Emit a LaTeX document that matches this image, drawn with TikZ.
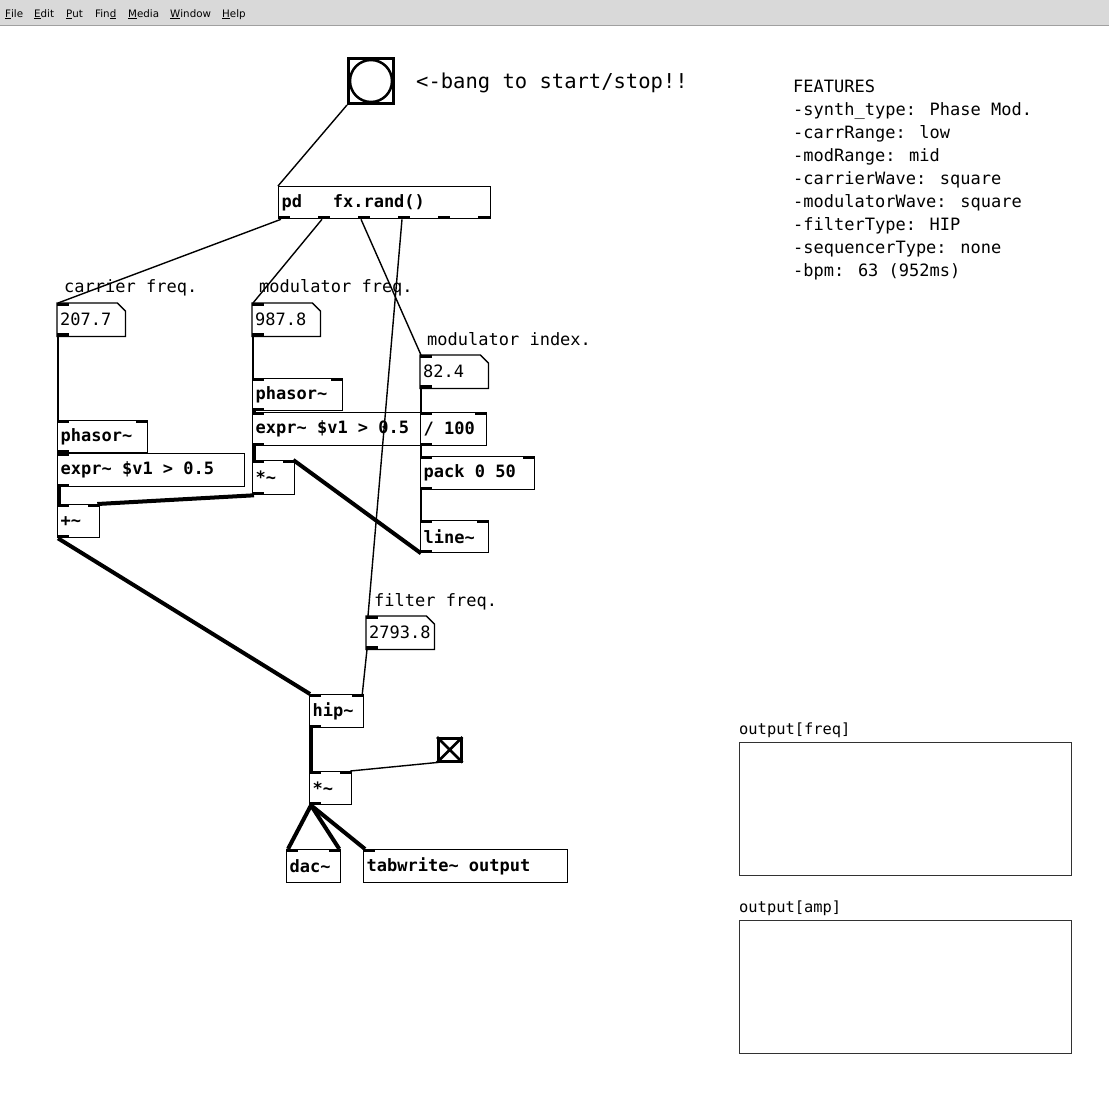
\documentclass[tikz,border=0pt]{standalone}
\usepackage{fontspec}
\newfontfamily\pdmono{DejaVu Sans Mono}
\newfontfamily\pdbold{DejaVu Sans Mono Bold}
\newfontfamily\pdmenu{DejaVu Sans}
\newcommand{\tld}{\textasciitilde}
\newcommand{\ws}{\hspace*{10.24pt}}
\newcommand{\pdobjfont}{\pdbold\fontsize{17}{20}\selectfont}
\definecolor{menubg}{RGB}{217,217,217}
\definecolor{menuline}{RGB}{160,160,160}
\definecolor{graphline}{RGB}{50,50,50}

\tikzset{
	obj/.style={draw, line width=1.3pt, anchor=north west, minimum height=33pt, inner xsep=3pt, inner ysep=0pt, align=left, font=\pdobjfont},
	num/.style={anchor=north west, minimum height=33pt, inner xsep=3pt, inner ysep=0pt, align=left, font=\pdmono\fontsize{17}{20}\selectfont},
	comment/.style={anchor=base west, inner sep=0pt, font=\pdmono\fontsize{17}{23}\selectfont},
	ctl/.style={line width=1.4pt},
	sig/.style={line width=4pt},
}

\begin{document}
\begin{tikzpicture}[x=1pt, y=-1pt]
	\fill[white] (0,0) rectangle (1109,1109);
	\useasboundingbox (0,0) rectangle (1109,1109);

	% menu bar
	\fill[menubg] (0,0) rectangle (1109,25);
	\draw[menuline, line width=1pt] (0,25) -- (1109,25);
	\foreach \x/\t [count=\i] in {5/{\underline{F}ile}, 34/{\underline{E}dit}, 66/{\underline{P}ut}, 95/{Fin\underline{d}}, 128/{\underline{M}edia}, 170/{\underline{W}indow}, 222/{\underline{H}elp}}
		\node (menu\i) [anchor=base west, inner sep=0pt, font=\pdmenu\fontsize{10.3}{12}\selectfont] at (\x,17) {\t};

	% gui objects
	\node (bang) [draw, line width=3pt, minimum size=45pt, inner sep=0pt, anchor=north west] at (347,57) {};
	\draw[line width=2.5pt] (bang.center) circle (21);
	\node (tgl) [draw, line width=2.5pt, minimum size=23pt, inner sep=0pt, anchor=north west] at (437,737) {};
	\draw[line width=2.5pt] (tgl.north west) -- (tgl.south east) (tgl.north east) -- (tgl.south west);

	% boxes
	\node (pd) [obj, text width=206pt, minimum height=32pt] at (278,186) {pd\ws\ws\ws fx.rand()};

	\node (carrnum) [num, text width=62pt] at (57,303) {207.7};
	\node (modnum) [num, text width=62pt] at (252,303) {987.8};
	\node (idxnum) [num, text width=62pt] at (420,355) {82.4};
	\node (filtnum) [num, text width=62pt] at (366,616) {2793.8};

	\node (phasorL) [obj, text width=84pt, minimum height=32pt] at (57,420) {phasor\tld};
	\node (exprL) [obj, text width=181pt] at (57,453) {expr\tld\ws\$v1\ws>\ws0.5};
	\node (addL) [obj, text width=36pt] at (57,504) {+\tld};

	\node (phasorM) [obj, text width=84pt, minimum height=32pt] at (252,378) {phasor\tld};
	\node (exprM) [obj, text width=162pt] at (252,412) {expr\tld\ws\$v1\ws>\ws0.5};
	\node (mulM) [obj, text width=36pt, minimum height=34pt] at (252,460) {*\tld};

	\node (div) [obj, text width=60pt] at (420,412) {/\ws100};
	\node (pack) [obj, text width=108pt] at (420,456) {pack\ws0\ws50};
	\node (line) [obj, text width=62pt, minimum height=32pt] at (420,520) {line\tld};

	\node (hip) [obj, text width=48pt] at (309,694) {hip\tld};
	\node (mulB) [obj, text width=36pt] at (309,771) {*\tld};
	\node (dac) [obj, text width=48pt] at (286,849) {dac\tld};
	\node (tabw) [obj, text width=198pt] at (363,849) {tabwrite\tld\ws output};

	% number box outlines
	\foreach \n in {carrnum, modnum, idxnum, filtnum}
		\draw[line width=1.3pt] (\n.north west) -- ([xshift=-8pt]\n.north east) -- ([yshift=-8pt]\n.north east) -- (\n.south east) -- (\n.south west) -- cycle;

	% inlets and outlets
	\foreach \n in {carrnum, modnum, idxnum, filtnum, phasorL, exprL, addL, phasorM, exprM, mulM, div, pack, line, hip, mulB, dac, tabw}
		\fill (\n.north west) rectangle ++(12,3);
	\foreach \n in {phasorL, addL, phasorM, mulM, div, pack, line, hip, mulB, dac}
		\fill (\n.north east) rectangle ++(-12,3);
	\foreach \n in {carrnum, modnum, idxnum, filtnum, phasorL, exprL, addL, phasorM, exprM, mulM, div, pack, line, hip, mulB}
		\fill (\n.south west) rectangle ++(12,-3);
	\foreach \i in {0,...,5}
		\fill ([xshift=\i*40pt]pd.south west) rectangle ++(12,-3);

	% graphs
	\node (gfreq) [draw=graphline, line width=1.2pt, anchor=north west, minimum width=332pt, minimum height=133pt] at (739,742) {};
	\node (gamp) [draw=graphline, line width=1.2pt, anchor=north west, minimum width=332pt, minimum height=133pt] at (739,920) {};

	% comments
	\node (bangtxt) [comment, font=\pdmono\fontsize{20.5}{24}\selectfont] at (416,88) {<-bang to start/stop!!};
	\node (carrtxt) [comment] at (64,292) {carrier freq.};
	\node (modtxt) [comment] at (259,292) {modulator freq.};
	\node (idxtxt) [comment] at (427,345) {modulator index.};
	\node (filttxt) [comment] at (374,606) {filter freq.};
	\node (freqtxt) [comment, font=\pdmono\fontsize{15.4}{18}\selectfont] at (739,734) {output[freq]};
	\node (amptxt) [comment, font=\pdmono\fontsize{15.4}{18}\selectfont] at (739,912) {output[amp]};
	\node (features) [comment, anchor=north west, align=left] at (793,80) {FEATURES\\-synth\_type: Phase Mod.\\-carrRange: low\\-modRange: mid\\-carrierWave: square\\-modulatorWave: square\\-filterType: HIP\\-sequencerType: none\\-bpm: 63 (952ms)};

	% control connections
	\path[ctl] (bang.south west) edge (pd.north west);
	\path[ctl] ([xshift=3pt]pd.south west) edge ([xshift=1pt]carrnum.north west);
	\path[ctl] ([xshift=44pt]pd.south west) edge ([xshift=1pt]modnum.north west);
	\path[ctl] ([xshift=83pt]pd.south west) edge ([xshift=1pt]idxnum.north west);
	\path[ctl] ([xshift=124pt]pd.south west) edge ([xshift=2pt]filtnum.north west);
	\path[ctl] ([xshift=1pt]carrnum.south west) edge ([xshift=1pt]phasorL.north west);
	\path[ctl] ([xshift=1pt]modnum.south west) edge ([xshift=1pt]phasorM.north west);
	\path[ctl] ([xshift=1pt]idxnum.south west) edge ([xshift=1pt]div.north west);
	\path[ctl] ([xshift=1pt]div.south west) edge ([xshift=1pt]pack.north west);
	\path[ctl] ([xshift=1pt]pack.south west) edge ([xshift=1pt]line.north west);
	\path[ctl] ([xshift=1pt]filtnum.south west) edge ([xshift=-2pt]hip.north east);
	\path[ctl] (tgl.south west) edge ([xshift=-2pt]mulB.north east);

	% signal connections
	\path[sig] ([xshift=2pt]phasorL.south west) edge ([xshift=2pt]exprL.north west);
	\path[sig] ([xshift=2pt]exprL.south west) edge ([xshift=2pt]addL.north west);
	\path[sig] ([xshift=2pt]mulM.south west) edge ([xshift=-3pt]addL.north east);
	\path[sig] ([xshift=2pt]phasorM.south west) edge ([xshift=2pt]exprM.north west);
	\path[sig] ([xshift=2pt]exprM.south west) edge ([xshift=2pt]mulM.north west);
	\path[sig] ([xshift=1pt]line.south west) edge ([xshift=-2pt]mulM.north east);
	\path[sig] ([xshift=1pt]addL.south west) edge ([xshift=1pt]hip.north west);
	\path[sig] ([xshift=2pt]hip.south west) edge ([xshift=2pt]mulB.north west);
	\path[sig] ([xshift=2pt]mulB.south west) edge ([xshift=2pt]dac.north west);
	\path[sig] ([xshift=2pt]mulB.south west) edge ([xshift=-2pt]dac.north east);
	\path[sig] ([xshift=2pt]mulB.south west) edge ([xshift=2pt]tabw.north west);
\end{tikzpicture}
\end{document}
